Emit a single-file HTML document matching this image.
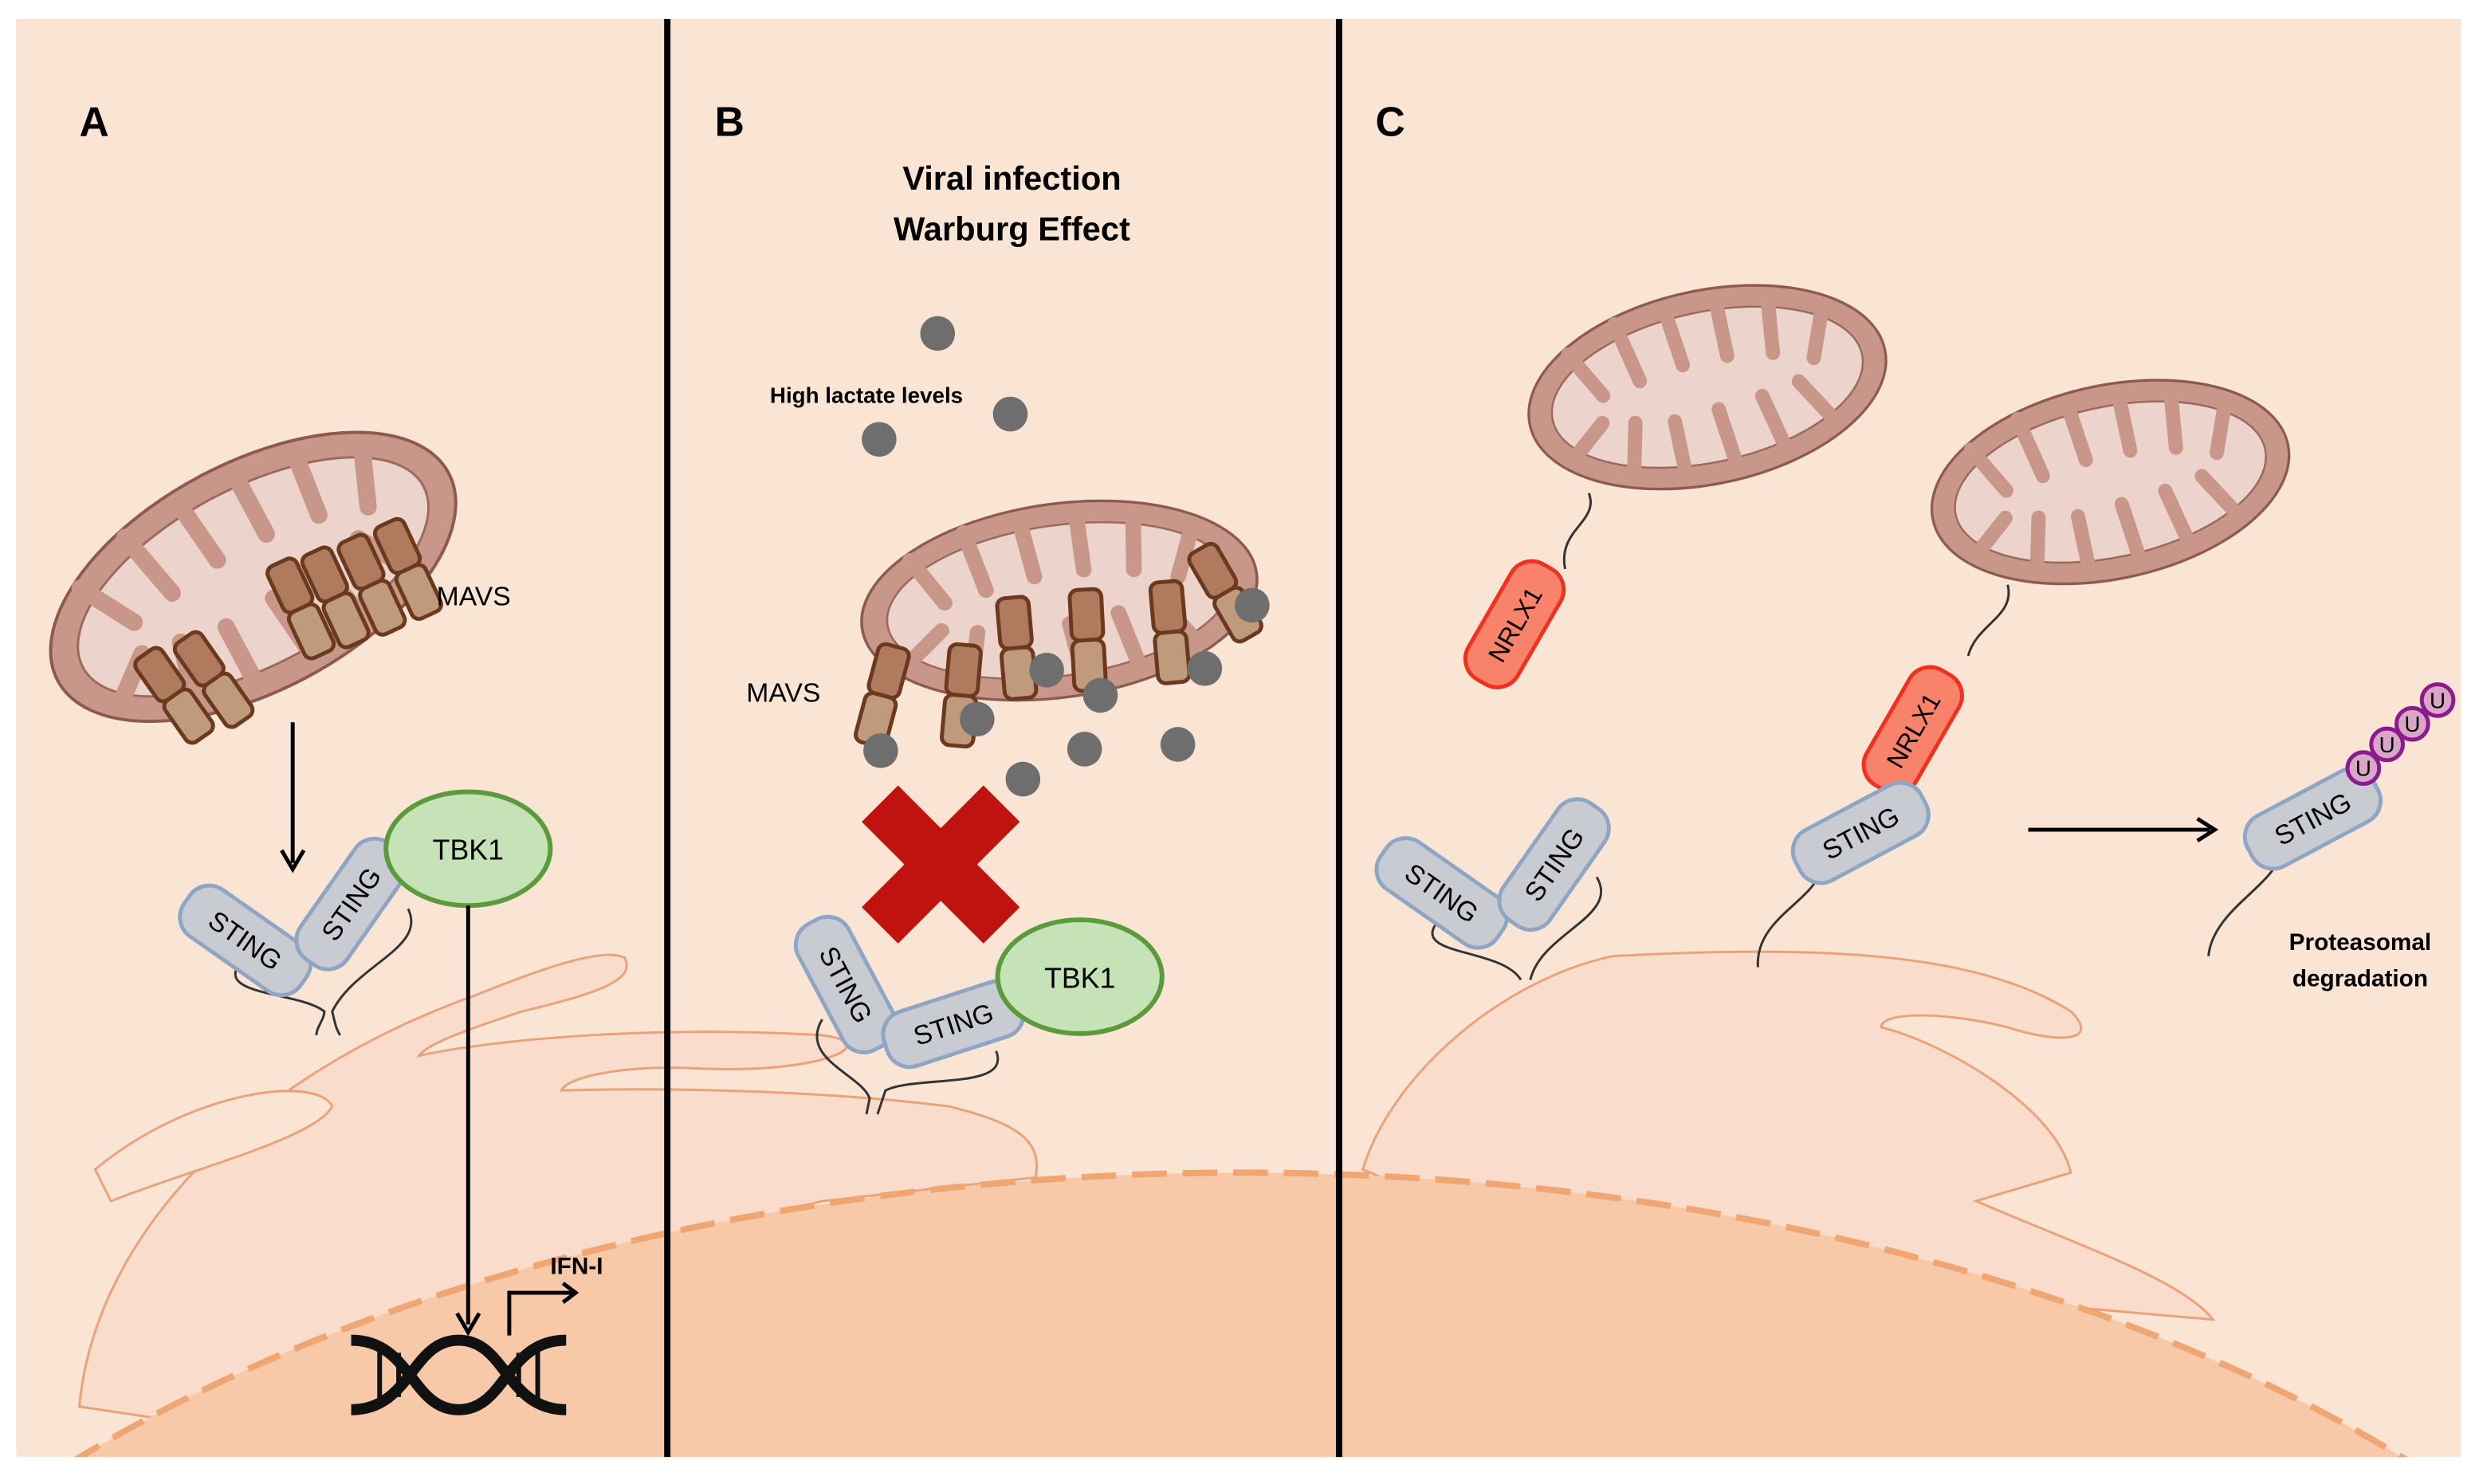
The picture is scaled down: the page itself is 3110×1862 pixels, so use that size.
<!DOCTYPE html>
<html><head><meta charset="utf-8"><style>html,body{margin:0;padding:0;background:#fff;width:3110px;height:1862px;overflow:hidden}svg{display:block}</style></head>
<body>
<svg width="3110" height="1862" viewBox="0 0 1568 939" xmlns="http://www.w3.org/2000/svg" font-family="Liberation Sans, sans-serif">
<defs>
<clipPath id="pc"><rect x="10" y="12" width="1547" height="910"/></clipPath>
<g id="mito">
<ellipse cx="0" cy="0" rx="140" ry="72" fill="#c9978a" stroke="#8e5a50" stroke-width="2"/>
<ellipse cx="0" cy="0" rx="122" ry="56" fill="#ecd4cc" stroke="#9b6a5e" stroke-width="1.5"/>
<g stroke="#c9978a" stroke-width="11" stroke-linecap="round">
<line x1="-100" y1="-45" x2="-80" y2="-10"/><line x1="-60" y1="-60" x2="-50" y2="-15"/><line x1="-20" y1="-62" x2="-15" y2="-20"/><line x1="20" y1="-62" x2="20" y2="-20"/><line x1="60" y1="-58" x2="55" y2="-15"/><line x1="100" y1="-42" x2="85" y2="-5"/>
<line x1="-110" y1="30" x2="-85" y2="10"/><line x1="-70" y1="55" x2="-60" y2="15"/><line x1="-30" y1="62" x2="-30" y2="20"/><line x1="10" y1="62" x2="5" y2="18"/><line x1="50" y1="58" x2="40" y2="15"/><line x1="90" y1="42" x2="70" y2="10"/>
</g>
</g>
<g id="mavs">
<rect x="-10" y="-32" width="20" height="32" rx="5" fill="#b07a5e" stroke="#6b3a1e" stroke-width="2.5"/>
<rect x="-10" y="0" width="20" height="32" rx="5" fill="#c09a7c" stroke="#6b3a1e" stroke-width="2.5"/>
</g>
</defs>
<rect width="1568" height="939" fill="#fff"/>
<g clip-path="url(#pc)">
<rect x="10" y="12" width="1547" height="910" fill="#fae5d5"/>
<g fill="#f9dccb" stroke="#e9a27c" stroke-width="1.5">
<path d="M50 890 C60 780 160 680 300 630 C330 618 380 598 395 606 C402 620 380 628 330 640 C300 650 270 660 265 668 C300 660 400 648 520 655 C560 660 520 680 440 676 C400 674 360 680 355 690 C420 688 520 690 600 700 C640 710 660 720 655 745 L520 760 C400 790 300 830 250 920 Z"/>
<path d="M60 740 C120 690 200 680 210 700 C200 720 120 740 70 760 Z" fill="#fae5d5"/>
<path d="M862 740 C880 680 950 620 1020 605 C1150 598 1250 602 1310 640 C1330 660 1300 660 1270 650 C1230 640 1190 640 1190 650 C1230 660 1300 700 1310 742 L1250 760 C1320 790 1380 810 1400 835 L1000 800 Z"/>
</g>
<ellipse cx="785" cy="1302" rx="1000" ry="560" fill="#f7c9a9" stroke="#efa673" stroke-width="4" stroke-dasharray="22 10"/>
<line x1="422" y1="12" x2="422" y2="922" stroke="#000" stroke-width="4"/>
<line x1="847" y1="12" x2="847" y2="922" stroke="#000" stroke-width="4"/>
</g>
<g font-weight="bold" font-size="26" fill="#000">
<text x="50" y="86">A</text><text x="452" y="86">B</text><text x="870" y="86">C</text>
</g>
<text x="640" y="120" font-size="21" font-weight="bold" text-anchor="middle">Viral infection</text>
<text x="640" y="152" font-size="21" font-weight="bold" text-anchor="middle">Warburg Effect</text>
<text x="548" y="255" font-size="14" font-weight="bold" text-anchor="middle">High lactate levels</text>

<use href="#mito" transform="translate(160,365) rotate(-28)"/>
<use href="#mavs" transform="translate(110,440) rotate(-35)"/><use href="#mavs" transform="translate(135,430) rotate(-35)"/>
<use href="#mavs" transform="translate(190,385) rotate(-25)"/><use href="#mavs" transform="translate(212,378) rotate(-25)"/><use href="#mavs" transform="translate(235,370) rotate(-25)"/><use href="#mavs" transform="translate(258,360) rotate(-25)"/>
<text x="276" y="383" font-size="17">MAVS</text>
<line x1="185" y1="457" x2="185" y2="546" stroke="#000" stroke-width="2.5"/><path d="M178 538 L185 550 L192 538" fill="none" stroke="#000" stroke-width="2.5"/>
<path d="M150 612 C140 630 190 628 205 640 C205 645 200 650 200 655 M258 575 C270 600 225 610 210 640 C212 648 212 650 215 655" fill="none" stroke="#333" stroke-width="1.5"/>
<g transform="translate(155,595) rotate(35)"><rect x="-45" y="-18" width="90" height="36" rx="15" fill="#c9cbd3" stroke="#8ea6c4" stroke-width="2.5"/><text y="6" font-size="17" text-anchor="middle">STING</text></g>
<g transform="translate(222,572) rotate(-55)"><rect x="-45" y="-18" width="90" height="36" rx="15" fill="#c9cbd3" stroke="#8ea6c4" stroke-width="2.5"/><text y="6" font-size="17" text-anchor="middle">STING</text></g>
<ellipse cx="296" cy="537" rx="52" ry="36" fill="#c5e3b7" stroke="#5b9a3d" stroke-width="3"/>
<text x="296" y="544" font-size="18" text-anchor="middle">TBK1</text>
<line x1="296" y1="573" x2="296" y2="838" stroke="#000" stroke-width="2.5"/><path d="M289 831 L296 843 L303 831" fill="none" stroke="#000" stroke-width="2.5"/>
<path d="M322 845 V818 H362" fill="none" stroke="#000" stroke-width="2.5"/><path d="M356 812 L364 818 L356 824" fill="none" stroke="#000" stroke-width="2.5"/>
<text x="348" y="806" font-size="15" font-weight="bold">IFN-I</text>
<g fill="none" stroke="#111" stroke-width="7">
<path d="M222 848 C260 848 260 892 290 892 C320 892 320 848 358 848"/>
<path d="M222 892 C260 892 260 848 290 848 C320 848 320 892 358 892"/>
</g>
<g stroke="#111" stroke-width="3"><line x1="240" y1="852" x2="240" y2="888"/><line x1="252" y1="856" x2="252" y2="884"/><line x1="328" y1="856" x2="328" y2="884"/><line x1="340" y1="852" x2="340" y2="888"/></g>

<use href="#mito" transform="translate(670,380) rotate(-8) scale(0.9,0.85)"/>
<use href="#mavs" transform="translate(558,440) rotate(15)"/><use href="#mavs" transform="translate(608,440) rotate(5)"/><use href="#mavs" transform="translate(643,410) rotate(-5)"/><use href="#mavs" transform="translate(688,405) rotate(-3)"/><use href="#mavs" transform="translate(740,400) rotate(-5)"/><use href="#mavs" transform="translate(775,375) rotate(-30)"/>
<text x="472" y="444" font-size="17">MAVS</text>
<g fill="#6e6e6e">
<circle cx="593" cy="211" r="11"/><circle cx="639" cy="262" r="11"/><circle cx="556" cy="278" r="11"/>
<circle cx="792" cy="383" r="11"/><circle cx="662" cy="424" r="11"/><circle cx="762" cy="423" r="11"/><circle cx="696" cy="440" r="11"/><circle cx="618" cy="455" r="11"/>
<circle cx="557" cy="475" r="11"/><circle cx="686" cy="474" r="11"/><circle cx="745" cy="471" r="11"/><circle cx="647" cy="493" r="11"/>
</g>
<path d="M545 520 L568 497 L595 524 L622 497 L645 520 L618 547 L645 574 L622 597 L595 570 L568 597 L545 574 L572 547 Z" fill="#c0120f"/>
<path d="M520 645 C505 670 545 680 550 695 L548 705 M630 665 C640 690 580 680 560 690 L555 705" fill="none" stroke="#333" stroke-width="1.5"/>
<g transform="translate(535,623) rotate(62)"><rect x="-45" y="-18" width="90" height="36" rx="15" fill="#c9cbd3" stroke="#8ea6c4" stroke-width="2.5"/><text y="6" font-size="17" text-anchor="middle">STING</text></g>
<g transform="translate(603,648) rotate(-18)"><rect x="-45" y="-18" width="90" height="36" rx="15" fill="#c9cbd3" stroke="#8ea6c4" stroke-width="2.5"/><text y="6" font-size="17" text-anchor="middle">STING</text></g>
<ellipse cx="683" cy="618" rx="52" ry="36" fill="#c5e3b7" stroke="#5b9a3d" stroke-width="3"/>
<text x="683" y="625" font-size="18" text-anchor="middle">TBK1</text>

<use href="#mito" transform="translate(1080,245) rotate(-12) scale(0.82,0.85)"/>
<use href="#mito" transform="translate(1335,305) rotate(-12) scale(0.82,0.85)"/>
<path d="M1005 312 C1012 330 985 335 990 360 M1270 370 C1275 390 1250 395 1245 415 M1152 548 C1150 570 1110 580 1112 612 M1442 540 C1440 560 1400 575 1397 605 M908 585 C895 605 950 600 962 620 M1010 555 C1025 580 975 590 968 620" fill="none" stroke="#333" stroke-width="1.5"/>
<g transform="translate(958,395) rotate(-60)"><rect x="-42" y="-18" width="84" height="36" rx="15" fill="#f9826a" stroke="#f0311f" stroke-width="2.5"/><text y="6" font-size="16" text-anchor="middle">NRLX1</text></g>
<g transform="translate(1210,462) rotate(-60)"><rect x="-42" y="-18" width="84" height="36" rx="15" fill="#f9826a" stroke="#f0311f" stroke-width="2.5"/><text y="6" font-size="16" text-anchor="middle">NRLX1</text></g>
<g transform="translate(912,565) rotate(35)"><rect x="-45" y="-18" width="90" height="36" rx="15" fill="#c9cbd3" stroke="#8ea6c4" stroke-width="2.5"/><text y="6" font-size="17" text-anchor="middle">STING</text></g>
<g transform="translate(983,547) rotate(-55)"><rect x="-45" y="-18" width="90" height="36" rx="15" fill="#c9cbd3" stroke="#8ea6c4" stroke-width="2.5"/><text y="6" font-size="17" text-anchor="middle">STING</text></g>
<g transform="translate(1177,527) rotate(-28)"><rect x="-45" y="-18" width="90" height="36" rx="15" fill="#c9cbd3" stroke="#8ea6c4" stroke-width="2.5"/><text y="6" font-size="17" text-anchor="middle">STING</text></g>
<g transform="translate(1463,518) rotate(-28)"><rect x="-45" y="-18" width="90" height="36" rx="15" fill="#c9cbd3" stroke="#8ea6c4" stroke-width="2.5"/><text y="6" font-size="17" text-anchor="middle">STING</text></g>
<g fill="#d9a6c7" stroke="#8b1a8b" stroke-width="2.5">
<circle cx="1495" cy="486" r="10"/><circle cx="1510" cy="471" r="10"/><circle cx="1526" cy="458" r="10"/><circle cx="1542" cy="443" r="10"/>
</g>
<g font-size="14" text-anchor="middle"><text x="1495" y="491">U</text><text x="1510" y="476">U</text><text x="1526" y="463">U</text><text x="1542" y="448">U</text></g>
<line x1="1283" y1="525" x2="1398" y2="525" stroke="#000" stroke-width="2.5"/><path d="M1390 518 L1401 525 L1390 532" fill="none" stroke="#000" stroke-width="2.5"/>
<text x="1493" y="601" font-size="15" font-weight="bold" text-anchor="middle">Proteasomal</text>
<text x="1493" y="624" font-size="15" font-weight="bold" text-anchor="middle">degradation</text>
</svg>
</body></html>
